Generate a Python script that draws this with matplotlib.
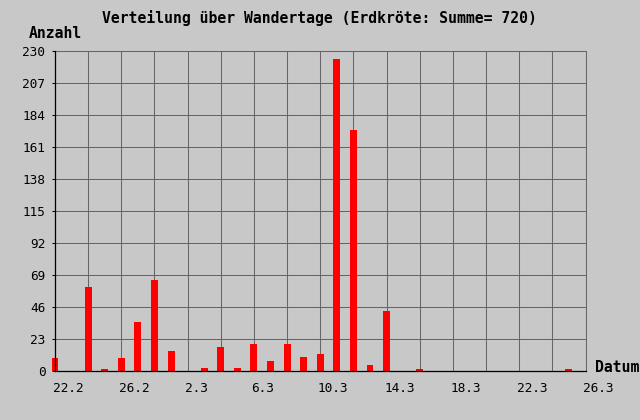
import numpy as np
import matplotlib
matplotlib.use('Agg')
import matplotlib.pyplot as plt
from matplotlib.transforms import ScaledTranslation

# days from 22.2 to 26.3
dates = ['22.2', '23.2', '24.2', '25.2', '26.2', '27.2', '28.2'] + \
        [f'{d}.3' for d in range(1, 27)]
counts = [9, 0, 60, 1, 9, 35, 65, 14, 0, 2, 17, 2, 19, 7, 19, 10, 12,
          224, 173, 4, 43, 0, 1, 0, 0, 0, 0, 0, 0, 0, 0, 1, 0]
y_ticks = [0, 23, 46, 69, 92, 115, 138, 161, 184, 207, 230]
title = 'Verteilung über Wandertage (Erdkröte: Summe= 720)'

bg = '#c8c8c8'
grid_col = '#666666'
mono = 'DejaVu Sans Mono'

fig = plt.figure(figsize=(6.4, 4.2), dpi=100, facecolor=bg)
ax = fig.add_axes([55 / 640, 1 - 370.5 / 420, 530.5 / 640, 320 / 420], facecolor=bg)

x = np.arange(len(dates))
ax.bar(x, counts, width=0.42, color='#ff0000', zorder=3, clip_on=False)

ax.set_xlim(0, len(dates) - 1)
ax.set_ylim(0, 230)

# grid every 2 days / every 23
for xv in x[::2]:
    ax.axvline(xv, color=grid_col, lw=0.75, zorder=1)
for yv in y_ticks:
    ax.axhline(yv, color=grid_col, lw=0.75, zorder=1)

ax.set_yticks(y_ticks)
ax.set_yticklabels([str(v) for v in y_ticks], family=mono, fontsize=9.2)
ax.set_xticks(x[::4])
ax.set_xticklabels(dates[::4], family=mono, fontsize=9.2, ha='left')
ax.tick_params(axis='x', length=0, pad=8)
ax.tick_params(axis='y', length=2, width=0.75, pad=5, color='black')
off = ScaledTranslation(-2.5 / 100, 0, fig.dpi_scale_trans)
for lab in ax.get_xticklabels():
    lab.set_transform(lab.get_transform() + off)

for s in ['top', 'right']:
    ax.spines[s].set_color(grid_col)
    ax.spines[s].set_linewidth(0.75)
for s in ['left', 'bottom']:
    ax.spines[s].set_color('black')
    ax.spines[s].set_linewidth(0.9)
    ax.spines[s].set_zorder(4)

fig.text(319 / 640, 1 - 18 / 420, title, family=mono, fontsize=10.6,
         fontweight='bold', ha='center', va='center')
fig.text(29 / 640, 1 - 33 / 420, 'Anzahl', family=mono, fontsize=10.6,
         fontweight='bold', ha='left', va='center')
fig.text(595 / 640, 1 - 368 / 420, 'Datum', family=mono, fontsize=10.6,
         fontweight='bold', ha='left', va='center')

fig.savefig('out.png', dpi=100, facecolor=bg)
